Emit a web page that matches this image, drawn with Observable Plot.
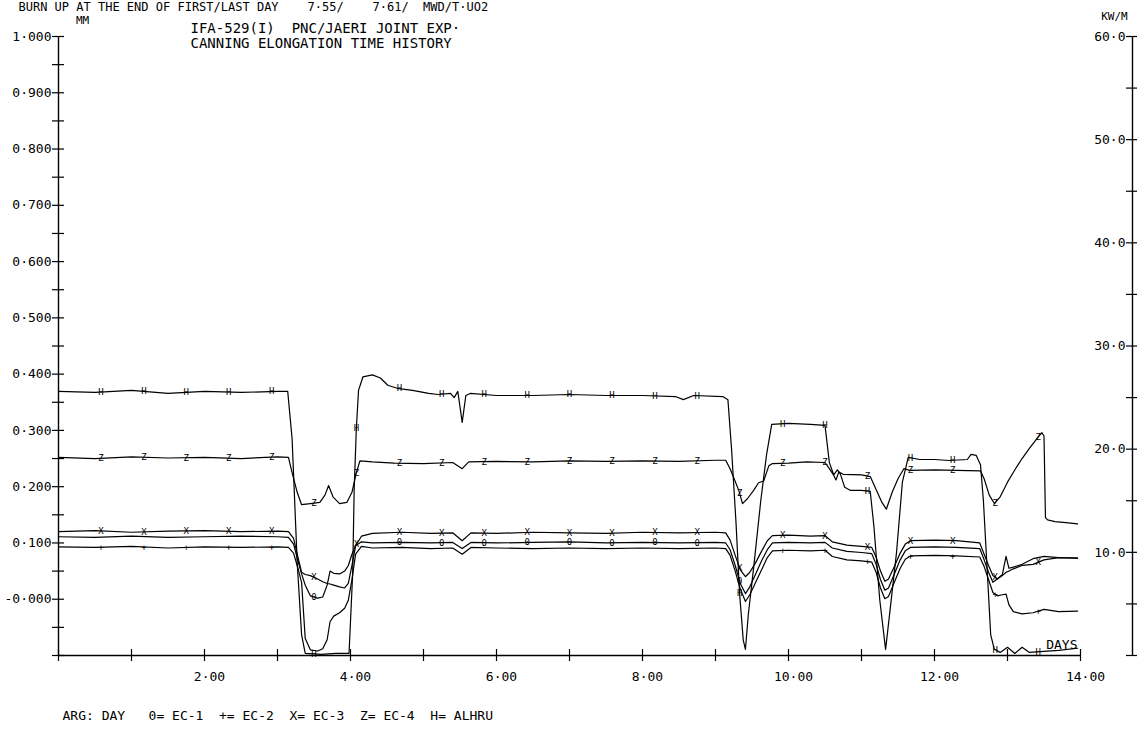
<!DOCTYPE html>
<html><head><meta charset="utf-8">
<script src="https://cdn.jsdelivr.net/npm/d3@7"></script>
<script src="https://cdn.jsdelivr.net/npm/@observablehq/plot@0.6"></script>
<style>
html,body{margin:0;padding:0;background:#fff;}
svg text{white-space:pre;}
</style></head><body><div id="chart"></div>
<script>
// ---------- DATA ----------
// Canning elongation, MM (left axis)
const ecDays = [0,0.5,1.0,1.5,2.0,2.5,3.0,3.15,3.22,3.28,3.33,3.38,3.45,3.55,3.62,3.68,3.72,3.77,3.85,3.92,3.97,
  4.02,4.07,4.15,4.3,4.7,5.1,5.4,5.53,5.65,6.0,6.5,7.0,7.5,8.0,8.5,9.0,9.14,
  9.2,9.27,9.34,9.41,9.47,9.55,9.63,9.71,9.78,10.0,10.3,10.5,10.6,10.8,11.0,11.14,
  11.2,11.26,11.32,11.37,11.45,11.53,11.6,11.67,12.0,12.3,12.62,12.68,12.74,12.8,12.86,12.93,12.98,13.02,13.08,13.2,13.35,13.5,13.7,13.96];
const ec1 = [0.111,0.110,0.112,0.110,0.111,0.112,0.111,0.110,
  0.098,0.068,0.045,0.025,0.006,0.002,0.004,0.025,0.050,0.046,0.045,0.050,0.060,
  0.080,0.095,0.102,0.100,0.101,0.100,0.101,0.090,0.101,
  0.100,0.101,0.102,0.100,0.101,0.100,0.101,0.100,
  0.088,0.060,0.028,0.010,0.022,0.045,0.068,0.088,0.100,
  0.101,0.100,0.101,0.091,0.085,0.083,0.081,
  0.062,0.035,0.016,0.020,0.045,0.070,0.086,0.092,
  0.093,0.092,0.090,0.070,0.048,0.030,0.036,0.044,0.076,0.055,0.057,0.062,0.072,0.076,0.074,0.073];
const ec2 = [0.093,0.092,0.094,0.091,0.093,0.092,0.093,0.092,
  0.082,0.055,0.030,-0.070,-0.090,-0.092,-0.088,-0.072,-0.040,-0.030,-0.024,-0.016,-0.002,
  0.035,0.080,0.094,0.091,0.092,0.090,0.091,0.080,0.092,
  0.091,0.090,0.091,0.090,0.091,0.090,0.091,0.090,
  0.078,0.050,0.018,-0.004,0.008,0.030,0.052,0.074,0.086,
  0.087,0.086,0.087,0.076,0.070,0.068,0.066,
  0.048,0.020,0.001,0.005,0.030,0.055,0.071,0.077,
  0.078,0.077,0.075,0.058,0.035,0.012,0.006,0.008,0.009,-0.010,-0.022,-0.026,-0.024,-0.018,-0.022,-0.021];
const ec3 = [0.120,0.122,0.119,0.121,0.122,0.120,0.121,0.120,
  0.108,0.075,0.048,0.044,0.042,0.036,0.031,0.028,0.027,0.025,0.022,0.020,0.028,
  0.060,0.095,0.112,0.117,0.119,0.117,0.118,0.104,0.118,
  0.117,0.119,0.118,0.117,0.119,0.118,0.119,0.118,
  0.105,0.078,0.052,0.040,0.048,0.065,0.085,0.104,0.113,
  0.114,0.112,0.113,0.102,0.096,0.094,0.092,
  0.075,0.050,0.032,0.036,0.058,0.082,0.098,0.104,
  0.105,0.104,0.100,0.080,0.060,0.042,0.036,0.042,0.048,0.050,0.054,0.060,0.062,0.070,0.074,0.073];
const ec4Days = [0,0.5,1.0,1.5,2.0,2.5,3.0,3.15,3.2,3.27,3.33,3.45,3.58,3.65,3.7,3.76,3.85,3.95,
  4.02,4.08,4.13,4.3,4.6,5.0,5.4,5.53,5.62,6.0,6.5,7.0,7.5,8.0,8.5,9.0,9.14,
  9.2,9.25,9.32,9.37,9.44,9.52,9.59,9.66,9.73,9.78,10.0,10.25,10.5,10.56,10.62,10.65,10.69,10.75,
  11.0,11.12,11.2,11.28,11.34,11.42,11.5,11.58,11.66,12.0,12.3,12.63,12.68,12.75,12.82,12.9,
  13.0,13.12,13.2,13.3,13.4,13.47,13.5,13.52,13.55,13.65,13.8,13.96];
const ec4 = [0.252,0.250,0.253,0.251,0.252,0.250,0.253,0.252,
  0.225,0.190,0.168,0.170,0.172,0.185,0.202,0.182,0.170,0.172,
  0.190,0.225,0.246,0.244,0.242,0.241,0.243,0.232,0.244,
  0.245,0.244,0.246,0.245,0.246,0.245,0.247,0.247,
  0.232,0.216,0.193,0.170,0.179,0.193,0.207,0.210,0.237,0.241,
  0.242,0.244,0.243,0.232,0.220,0.212,0.226,0.222,
  0.221,0.218,0.195,0.172,0.160,0.190,0.214,0.232,0.229,
  0.230,0.229,0.228,0.214,0.185,0.170,0.182,0.208,0.234,0.250,0.268,0.285,0.296,0.290,0.145,0.141,0.138,0.136,0.134];
// Average linear heat rate, KW/M (right axis)
const alhruDays = [0,0.5,1.0,1.5,2.0,2.5,3.0,3.14,3.2,3.27,3.33,3.38,3.6,3.8,3.98,
  4.03,4.05,4.08,4.11,4.17,4.3,4.41,4.51,4.64,4.85,5.07,5.2,5.37,5.42,5.47,5.53,5.58,5.64,
  6.0,6.5,7.0,7.5,8.0,8.45,8.56,8.7,9.1,9.17,9.22,9.28,9.33,9.38,9.41,
  9.45,9.53,9.62,9.7,9.77,10.0,10.3,10.5,10.56,10.62,10.67,10.71,10.77,10.85,
  11.0,11.12,11.17,11.25,11.33,11.38,11.48,11.56,11.64,11.8,12.0,12.2,12.45,12.5,12.57,
  12.63,12.67,12.72,12.77,12.82,12.9,13.0,13.1,13.2,13.3,13.5,13.7,13.96];
const alhru = [25.6,25.5,25.7,25.4,25.6,25.5,25.6,25.6,21.0,9.0,2.0,0.2,0.1,0.2,0.2,
  8.0,16.0,22.0,25.7,27.0,27.2,26.9,26.2,25.9,25.7,25.4,25.3,25.4,25.0,25.6,22.6,25.2,25.4,
  25.2,25.2,25.3,25.2,25.2,25.1,24.8,25.2,25.1,24.8,20.0,13.0,6.0,1.5,0.6,
  4.0,9.0,15.0,19.5,22.4,22.5,22.4,22.3,18.7,17.5,18.0,17.6,16.3,16.0,
  16.0,15.9,12.5,5.4,0.6,3.7,10.0,16.8,19.2,19.0,19.0,18.9,19.0,19.5,19.4,
  18.5,15.0,8.5,2.0,0.6,0.3,0.8,0.2,0.8,0.3,0.4,0.5,0.7];

const seriesNames = ["EC-1","EC-2","EC-3","EC-4","ALHRU"];
const seriesGlyphs = ["0","+","X","Z","H"];
const markerDays = [0.58,1.17,1.75,2.33,2.92,3.5,4.08,4.67,5.25,5.83,6.42,7.0,7.58,8.17,8.75,9.33,9.92,10.5,11.08,11.67,12.25,12.83,13.42];

const leftLabels = [1.0,0.9,0.8,0.7,0.6,0.5,0.4,0.3,0.2,0.1,0.0];
const rightLabels = [60,50,40,30,20,10];
const xLabels = [2,4,6,8,10,12,14];
const topNote = "BURN UP AT THE END OF FIRST/LAST DAY    7·55/    7·61/  MWD/T·UO2";
const titleLines = ["IFA-529(I)  PNC/JAERI JOINT EXP·", "CANNING ELONGATION TIME HISTORY"];
const legendText = "ARG: DAY   0= EC-1  += EC-2  X= EC-3  Z= EC-4  H= ALHRU";

// ---------- LAYOUT ----------
const W = 1137, H = 735;
const mL = 58, mR = 5, mT = 36, mB = 80;
const pxPerDay = 73;
const xMax = 14 + (W - mR - mL - 14 * pxPerDay) / pxPerDay;
const yMin = -0.1, yMax = 1.0;
const pxPerMm = (H - mB - mT) / (yMax - yMin);
const kwToMm = k => yMin + k * (yMax - yMin) / 60;
const tdx = 6 / pxPerDay, tdy = 6 / pxPerMm;

function rows(days, vals, conv) {
  const n = Math.min(days.length, vals.length);
  return d3.range(n).map(i => ({d: days[i], v: conv(vals[i])}));
}
function interp(days, vals, t) {
  for (let i = 1; i < days.length; i++) {
    if (t <= days[i]) {
      const f = (t - days[i-1]) / (days[i] - days[i-1]);
      return vals[i-1] + f * (vals[i] - vals[i-1]);
    }
  }
  return vals[vals.length - 1];
}
const series = [
  {days: ecDays, vals: ec1, conv: v => v},
  {days: ecDays, vals: ec2, conv: v => v},
  {days: ecDays, vals: ec3, conv: v => v},
  {days: ec4Days, vals: ec4, conv: v => v},
  {days: alhruDays, vals: alhru, conv: kwToMm}
];
const lineData = series.map(s => rows(s.days, s.vals, s.conv));
// plotter symbols: one per curve at each marker day; skip one that would sit on top of another
const markerPriority = [2, 3, 4, 0, 1];
const markers = [];
for (const t of markerDays) {
  const kept = [];
  for (const i of markerPriority) {
    const s = series[i];
    const v = s.conv(interp(s.days, s.vals, t));
    if (kept.every(k => Math.abs(k - v) * pxPerMm >= 9)) {
      kept.push(v);
      markers.push({d: t, v, g: seriesGlyphs[i]});
    }
  }
}

const fmtL = v => v === 0 ? "-0·000" : v.toFixed(3).replace(".", "·");
const fmtR = k => k.toFixed(1).replace(".", "·");
const fmtX = d => d.toFixed(2).replace(".", "·");

const leftTicks = d3.range(-2, 21).map(i => i * 0.05);
const rightTicks = d3.range(0, 13).map(i => kwToMm(i * 5));
const xTicks = d3.range(0, 15);

const plot = Plot.plot({
  width: W, height: H,
  marginLeft: mL, marginRight: mR, marginTop: mT, marginBottom: mB,
  x: {domain: [0, xMax], axis: null},
  y: {domain: [yMin, yMax], axis: null},
  style: {fontFamily: "'DejaVu Sans Mono', monospace", fontSize: "13px", background: "white", color: "black"},
  marks: [
    // axes lines
    Plot.ruleX([0], {y1: yMin, y2: yMax, stroke: "black", strokeWidth: 1.4}),
    Plot.ruleX([xMax], {y1: yMin, y2: yMax, stroke: "black", strokeWidth: 1.4}),
    Plot.ruleY([yMin], {x1: 0, x2: 14, stroke: "black", strokeWidth: 1.4}),
    // ticks (crossing)
    Plot.ruleY(leftTicks, {y: d => d, x1: -tdx, x2: tdx, stroke: "black", strokeWidth: 1.2}),
    Plot.ruleY(rightTicks, {y: d => d, x1: xMax - tdx, x2: xMax + tdx, stroke: "black", strokeWidth: 1.2}),
    Plot.ruleX(xTicks, {x: d => d, y1: yMin - tdy, y2: yMin + tdy, stroke: "black", strokeWidth: 1.2}),
    // tick labels
    Plot.text(leftLabels, {x: () => 0, y: d => d, text: fmtL, textAnchor: "end", dx: -7, fontSize: 13}),
    Plot.text(rightLabels, {x: () => xMax, y: d => kwToMm(d), text: fmtR, textAnchor: "end", dx: -7, fontSize: 13}),
    Plot.text(xLabels, {x: d => d, y: () => yMin, text: fmtX, textAnchor: "middle", dx: 5, dy: 21, fontSize: 13}),
    // data lines
    ...lineData.map(data => Plot.line(data, {x: "d", y: "v", stroke: "black", strokeWidth: 1.2})),
    // plotter symbols on the curves
    Plot.text(markers, {x: "d", y: "v", text: "g", fontSize: 9, fill: "black"}),
    // units and titles
    Plot.text(["MM"], {frameAnchor: "top-left", text: d => d, dx: 24, dy: -20, textAnchor: "middle", fontSize: 11}),
    Plot.text(["KW/M"], {frameAnchor: "top-right", text: d => d, dx: -18, dy: -24, textAnchor: "middle", fontSize: 11}),
    Plot.text([topNote], {frameAnchor: "top-left", text: d => d, dx: 18 - mL, dy: 2 - mT, textAnchor: "start", fontSize: 12}),
    Plot.text([titleLines[0]], {frameAnchor: "top-left", text: d => d, dx: 190 - mL, dy: 23 - mT, textAnchor: "start", fontSize: 14}),
    Plot.text([titleLines[1]], {frameAnchor: "top-left", text: d => d, dx: 190 - mL, dy: 38 - mT, textAnchor: "start", fontSize: 14}),
    Plot.text(["DAYS"], {x: () => 14, y: () => yMin, text: d => d, textAnchor: "end", dx: -3, dy: -11, fontSize: 13}),
    Plot.text([legendText], {frameAnchor: "bottom-left", text: d => d, dx: 62 - mL, dy: 719 - (H - mB), textAnchor: "start", fontSize: 13})
  ]
});
document.getElementById("chart").appendChild(plot);
</script>
</body></html>
